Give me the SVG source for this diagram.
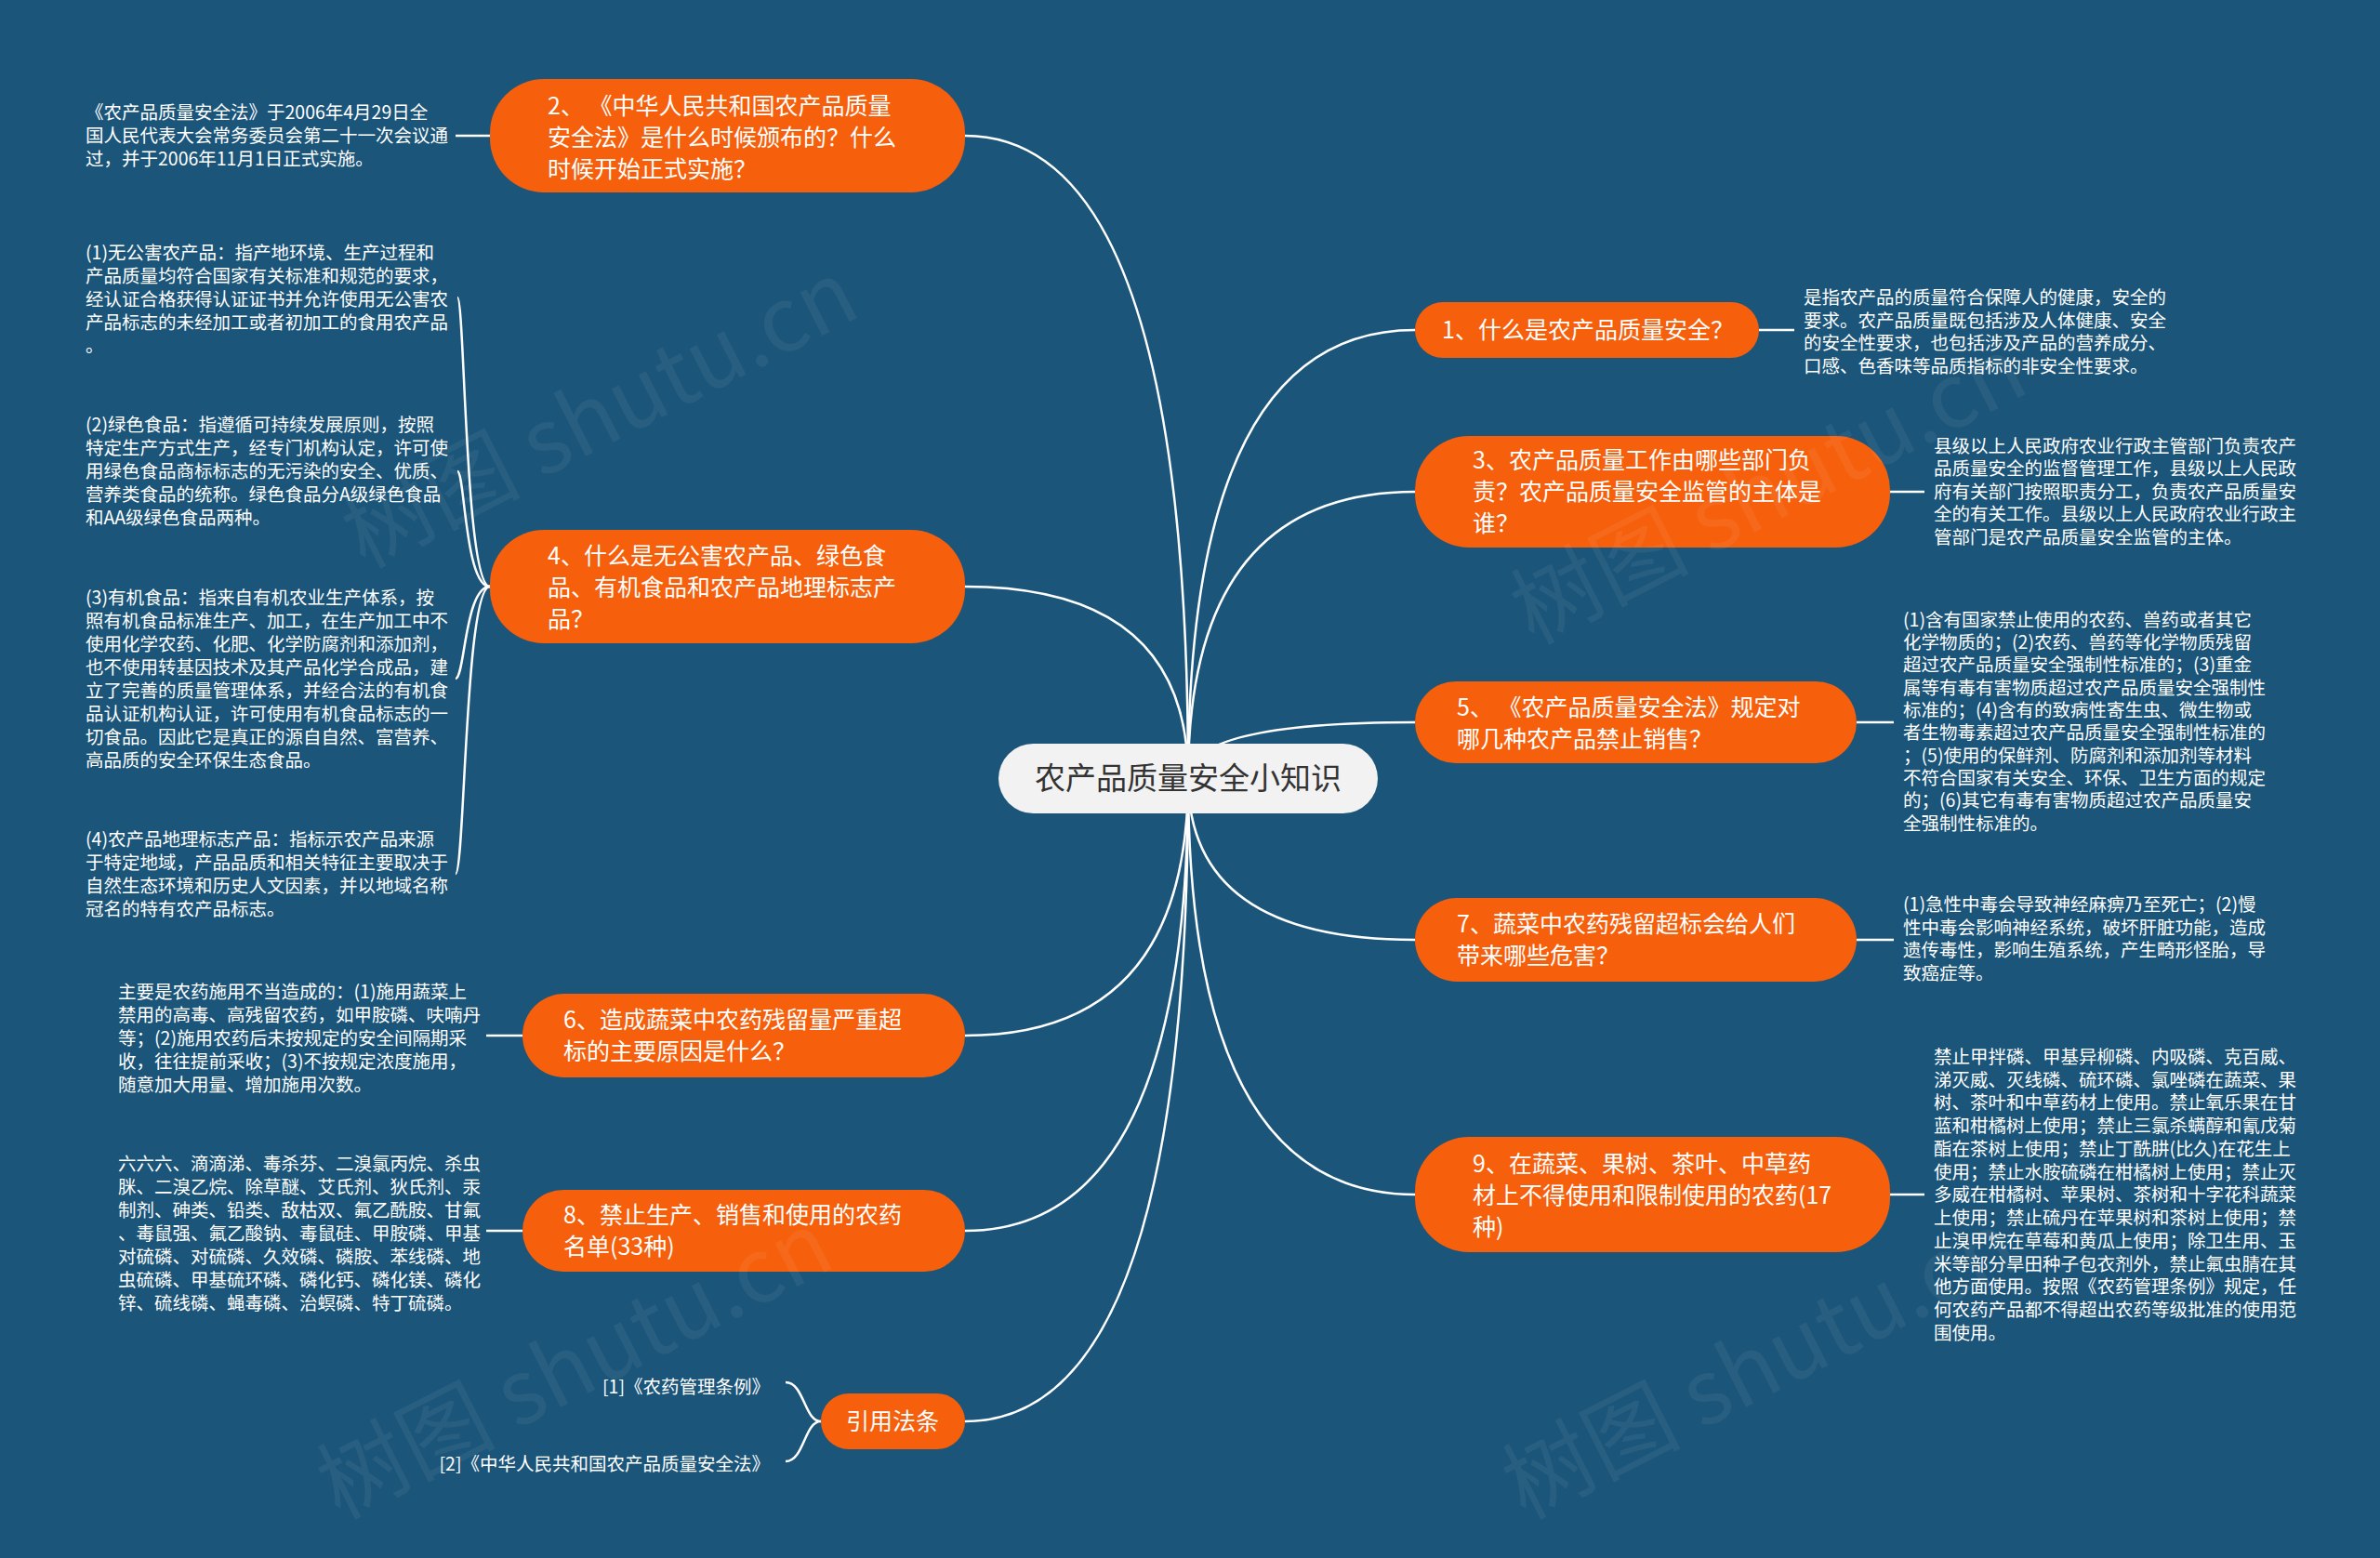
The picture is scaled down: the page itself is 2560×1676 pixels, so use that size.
<svg xmlns="http://www.w3.org/2000/svg" width="2560" height="1676" viewBox="0 0 2560 1676">
<style>
.bg{fill:#1b557a}
.link{fill:none;stroke:#ffffff;stroke-width:2.5}
.nb{fill:#f65f0c}
.nt{font-family:"Noto Sans CJK SC","Noto Sans",sans-serif;font-size:25px;fill:#ffffff}
.leaf{font-family:"Noto Sans CJK SC","Noto Sans",sans-serif;font-size:19.5px;fill:#ffffff}
.wm{font-family:"Noto Sans CJK SC","Noto Sans",sans-serif;font-size:96px;fill:#ffffff;fill-opacity:0.06}
</style>
<rect class="bg" x="0" y="0" width="2560" height="1676"/>
<g id="connectors">
<path class="link" d="M1278 837 Q1278 146 1038 146"/>
<path class="link" d="M1278 837 Q1278 631 1038 631"/>
<path class="link" d="M1278 837 Q1278 1114 1038 1114"/>
<path class="link" d="M1278 837 Q1278 1324 1038 1324"/>
<path class="link" d="M1278 837 Q1278 1529 1038 1529"/>
<path class="link" d="M1278 837 Q1278 355 1522 355"/>
<path class="link" d="M1278 837 Q1278 529 1522 529"/>
<path class="link" d="M1278 837 Q1278 777 1522 777"/>
<path class="link" d="M1278 837 Q1278 1011 1522 1011"/>
<path class="link" d="M1278 837 Q1278 1285 1522 1285"/>
<path class="link" d="M490 146 L527 146"/>
<path class="link" d="M527 631 C500 631 500 320 492 320"/>
<path class="link" d="M527 631 C500 631 500 507 492 507"/>
<path class="link" d="M527 631 C500 631 500 730 490 730"/>
<path class="link" d="M527 631 C500 631 500 940 490 940"/>
<path class="link" d="M523 1114 L562 1114"/>
<path class="link" d="M523 1324 L562 1324"/>
<path class="link" d="M883 1529 C865 1529 865 1487 845 1487"/>
<path class="link" d="M883 1529 C865 1529 865 1572 845 1572"/>
<path class="link" d="M1892 355 L1930 355"/>
<path class="link" d="M2033 529 L2070 529"/>
<path class="link" d="M1997 777 L2037 777"/>
<path class="link" d="M1997 1011 L2037 1011"/>
<path class="link" d="M2033 1285 L2070 1285"/>
</g>
<g id="center">
<rect x="1074" y="800" width="408" height="75" rx="37.5" fill="#f2f2f2"/>
<text x="1278" y="849" text-anchor="middle" font-family="Noto Sans CJK SC, sans-serif" font-size="33" fill="#333333">农产品质量安全小知识</text>
</g>
<g id="node2">
<rect class="nb" x="527" y="85" width="511" height="122" rx="58"/>
<text class="nt" x="589" y="123">2、 《中华人民共和国农产品质量</text>
<text class="nt" x="589" y="157">安全法》是什么时候颁布的？什么</text>
<text class="nt" x="589" y="191">时候开始正式实施？</text>
</g>
<g id="node4">
<rect class="nb" x="527" y="570" width="511" height="122" rx="58"/>
<text class="nt" x="589" y="607">4、什么是无公害农产品、绿色食</text>
<text class="nt" x="589" y="641">品、有机食品和农产品地理标志产</text>
<text class="nt" x="589" y="675">品？</text>
</g>
<g id="node6">
<rect class="nb" x="562" y="1069" width="476" height="90" rx="45"/>
<text class="nt" x="606" y="1106">6、造成蔬菜中农药残留量严重超</text>
<text class="nt" x="606" y="1140">标的主要原因是什么？</text>
</g>
<g id="node8">
<rect class="nb" x="562" y="1280" width="476" height="88" rx="44"/>
<text class="nt" x="606" y="1316">8、禁止生产、销售和使用的农药</text>
<text class="nt" x="606" y="1350">名单(33种)</text>
</g>
<g id="node-cite">
<rect class="nb" x="883" y="1499" width="155" height="60" rx="30"/>
<text class="nt" x="960" y="1538" text-anchor="middle">引用法条</text>
</g>
<g id="node1">
<rect class="nb" x="1522" y="325" width="370" height="60" rx="30"/>
<text class="nt" x="1551" y="364">1、什么是农产品质量安全？</text>
</g>
<g id="node3">
<rect class="nb" x="1522" y="469" width="511" height="120" rx="58"/>
<text class="nt" x="1584" y="504">3、农产品质量工作由哪些部门负</text>
<text class="nt" x="1584" y="538">责？农产品质量安全监管的主体是</text>
<text class="nt" x="1584" y="572">谁？</text>
</g>
<g id="node5">
<rect class="nb" x="1522" y="733" width="475" height="88" rx="44"/>
<text class="nt" x="1567" y="770">5、 《农产品质量安全法》规定对</text>
<text class="nt" x="1567" y="804">哪几种农产品禁止销售？</text>
</g>
<g id="node7">
<rect class="nb" x="1522" y="966" width="475" height="90" rx="45"/>
<text class="nt" x="1567" y="1003">7、蔬菜中农药残留超标会给人们</text>
<text class="nt" x="1567" y="1037">带来哪些危害？</text>
</g>
<g id="node9">
<rect class="nb" x="1522" y="1223" width="511" height="124" rx="58"/>
<text class="nt" x="1584" y="1261">9、在蔬菜、果树、茶叶、中草药</text>
<text class="nt" x="1584" y="1295">材上不得使用和限制使用的农药(17</text>
<text class="nt" x="1584" y="1329">种)</text>
</g>
<g id="leaf2">
<text class="leaf" x="92" y="128">《农产品质量安全法》于2006年4月29日全</text>
<text class="leaf" x="92" y="153">国人民代表大会常务委员会第二十一次会议通</text>
<text class="leaf" x="92" y="178">过，并于2006年11月1日正式实施。</text>
</g>
<g id="leaf4-1">
<text class="leaf" x="92" y="279">(1)无公害农产品：指产地环境、生产过程和</text>
<text class="leaf" x="92" y="304">产品质量均符合国家有关标准和规范的要求，</text>
<text class="leaf" x="92" y="329">经认证合格获得认证证书并允许使用无公害农</text>
<text class="leaf" x="92" y="354">产品标志的未经加工或者初加工的食用农产品</text>
<text class="leaf" x="92" y="379">。</text>
</g>
<g id="leaf4-2">
<text class="leaf" x="92" y="464">(2)绿色食品：指遵循可持续发展原则，按照</text>
<text class="leaf" x="92" y="489">特定生产方式生产，经专门机构认定，许可使</text>
<text class="leaf" x="92" y="514">用绿色食品商标标志的无污染的安全、优质、</text>
<text class="leaf" x="92" y="539">营养类食品的统称。绿色食品分A级绿色食品</text>
<text class="leaf" x="92" y="564">和AA级绿色食品两种。</text>
</g>
<g id="leaf4-3">
<text class="leaf" x="92" y="650">(3)有机食品：指来自有机农业生产体系，按</text>
<text class="leaf" x="92" y="675">照有机食品标准生产、加工，在生产加工中不</text>
<text class="leaf" x="92" y="700">使用化学农药、化肥、化学防腐剂和添加剂，</text>
<text class="leaf" x="92" y="725">也不使用转基因技术及其产品化学合成品，建</text>
<text class="leaf" x="92" y="750">立了完善的质量管理体系，并经合法的有机食</text>
<text class="leaf" x="92" y="775">品认证机构认证，许可使用有机食品标志的一</text>
<text class="leaf" x="92" y="800">切食品。因此它是真正的源自自然、富营养、</text>
<text class="leaf" x="92" y="825">高品质的安全环保生态食品。</text>
</g>
<g id="leaf4-4">
<text class="leaf" x="92" y="910">(4)农产品地理标志产品：指标示农产品来源</text>
<text class="leaf" x="92" y="935">于特定地域，产品品质和相关特征主要取决于</text>
<text class="leaf" x="92" y="960">自然生态环境和历史人文因素，并以地域名称</text>
<text class="leaf" x="92" y="985">冠名的特有农产品标志。</text>
</g>
<g id="leaf6">
<text class="leaf" x="127" y="1074">主要是农药施用不当造成的：(1)施用蔬菜上</text>
<text class="leaf" x="127" y="1099">禁用的高毒、高残留农药，如甲胺磷、呋喃丹</text>
<text class="leaf" x="127" y="1124">等；(2)施用农药后未按规定的安全间隔期采</text>
<text class="leaf" x="127" y="1149">收，往往提前采收；(3)不按规定浓度施用，</text>
<text class="leaf" x="127" y="1174">随意加大用量、增加施用次数。</text>
</g>
<g id="leaf8">
<text class="leaf" x="127" y="1259">六六六、滴滴涕、毒杀芬、二溴氯丙烷、杀虫</text>
<text class="leaf" x="127" y="1284">脒、二溴乙烷、除草醚、艾氏剂、狄氏剂、汞</text>
<text class="leaf" x="127" y="1309">制剂、砷类、铅类、敌枯双、氟乙酰胺、甘氟</text>
<text class="leaf" x="127" y="1334">、毒鼠强、氟乙酸钠、毒鼠硅、甲胺磷、甲基</text>
<text class="leaf" x="127" y="1359">对硫磷、对硫磷、久效磷、磷胺、苯线磷、地</text>
<text class="leaf" x="127" y="1384">虫硫磷、甲基硫环磷、磷化钙、磷化镁、磷化</text>
<text class="leaf" x="127" y="1409">锌、硫线磷、蝇毒磷、治螟磷、特丁硫磷。</text>
</g>
<g id="leaf-cite">
<text class="leaf" x="828" y="1499" text-anchor="end">[1]《农药管理条例》</text>
<text class="leaf" x="828" y="1582" text-anchor="end">[2]《中华人民共和国农产品质量安全法》</text>
</g>
<g id="leaf1">
<text class="leaf" x="1940" y="327">是指农产品的质量符合保障人的健康，安全的</text>
<text class="leaf" x="1940" y="352">要求。农产品质量既包括涉及人体健康、安全</text>
<text class="leaf" x="1940" y="376">的安全性要求，也包括涉及产品的营养成分、</text>
<text class="leaf" x="1940" y="401">口感、色香味等品质指标的非安全性要求。</text>
</g>
<g id="leaf3">
<text class="leaf" x="2080" y="487">县级以上人民政府农业行政主管部门负责农产</text>
<text class="leaf" x="2080" y="511">品质量安全的监督管理工作，县级以上人民政</text>
<text class="leaf" x="2080" y="536">府有关部门按照职责分工，负责农产品质量安</text>
<text class="leaf" x="2080" y="560">全的有关工作。县级以上人民政府农业行政主</text>
<text class="leaf" x="2080" y="585">管部门是农产品质量安全监管的主体。</text>
</g>
<g id="leaf5">
<text class="leaf" x="2047" y="674">(1)含有国家禁止使用的农药、兽药或者其它</text>
<text class="leaf" x="2047" y="698">化学物质的；(2)农药、兽药等化学物质残留</text>
<text class="leaf" x="2047" y="722">超过农产品质量安全强制性标准的；(3)重金</text>
<text class="leaf" x="2047" y="747">属等有毒有害物质超过农产品质量安全强制性</text>
<text class="leaf" x="2047" y="771">标准的；(4)含有的致病性寄生虫、微生物或</text>
<text class="leaf" x="2047" y="795">者生物毒素超过农产品质量安全强制性标准的</text>
<text class="leaf" x="2047" y="820">；(5)使用的保鲜剂、防腐剂和添加剂等材料</text>
<text class="leaf" x="2047" y="844">不符合国家有关安全、环保、卫生方面的规定</text>
<text class="leaf" x="2047" y="868">的；(6)其它有毒有害物质超过农产品质量安</text>
<text class="leaf" x="2047" y="893">全强制性标准的。</text>
</g>
<g id="leaf7">
<text class="leaf" x="2047" y="980">(1)急性中毒会导致神经麻痹乃至死亡；(2)慢</text>
<text class="leaf" x="2047" y="1005">性中毒会影响神经系统，破坏肝脏功能，造成</text>
<text class="leaf" x="2047" y="1029">遗传毒性，影响生殖系统，产生畸形怪胎，导</text>
<text class="leaf" x="2047" y="1054">致癌症等。</text>
</g>
<g id="leaf9">
<text class="leaf" x="2080" y="1144">禁止甲拌磷、甲基异柳磷、内吸磷、克百威、</text>
<text class="leaf" x="2080" y="1169">涕灭威、灭线磷、硫环磷、氯唑磷在蔬菜、果</text>
<text class="leaf" x="2080" y="1193">树、茶叶和中草药材上使用。禁止氧乐果在甘</text>
<text class="leaf" x="2080" y="1218">蓝和柑橘树上使用；禁止三氯杀螨醇和氰戊菊</text>
<text class="leaf" x="2080" y="1243">酯在茶树上使用；禁止丁酰肼(比久)在花生上</text>
<text class="leaf" x="2080" y="1268">使用；禁止水胺硫磷在柑橘树上使用；禁止灭</text>
<text class="leaf" x="2080" y="1292">多威在柑橘树、苹果树、茶树和十字花科蔬菜</text>
<text class="leaf" x="2080" y="1317">上使用；禁止硫丹在苹果树和茶树上使用；禁</text>
<text class="leaf" x="2080" y="1342">止溴甲烷在草莓和黄瓜上使用；除卫生用、玉</text>
<text class="leaf" x="2080" y="1367">米等部分旱田种子包衣剂外，禁止氟虫腈在其</text>
<text class="leaf" x="2080" y="1391">他方面使用。按照《农药管理条例》规定，任</text>
<text class="leaf" x="2080" y="1416">何农药产品都不得超出农药等级批准的使用范</text>
<text class="leaf" x="2080" y="1441">围使用。</text>
</g>
<g id="watermarks">
<text class="wm" transform="translate(392 612) rotate(-27)">树图 shutu.cn</text>
<text class="wm" transform="translate(1649 694) rotate(-27)">树图 shutu.cn</text>
<text class="wm" transform="translate(365 1635) rotate(-27)">树图 shutu.cn</text>
<text class="wm" transform="translate(1640 1635) rotate(-27)">树图 shutu.cn</text>
</g>
</svg>
